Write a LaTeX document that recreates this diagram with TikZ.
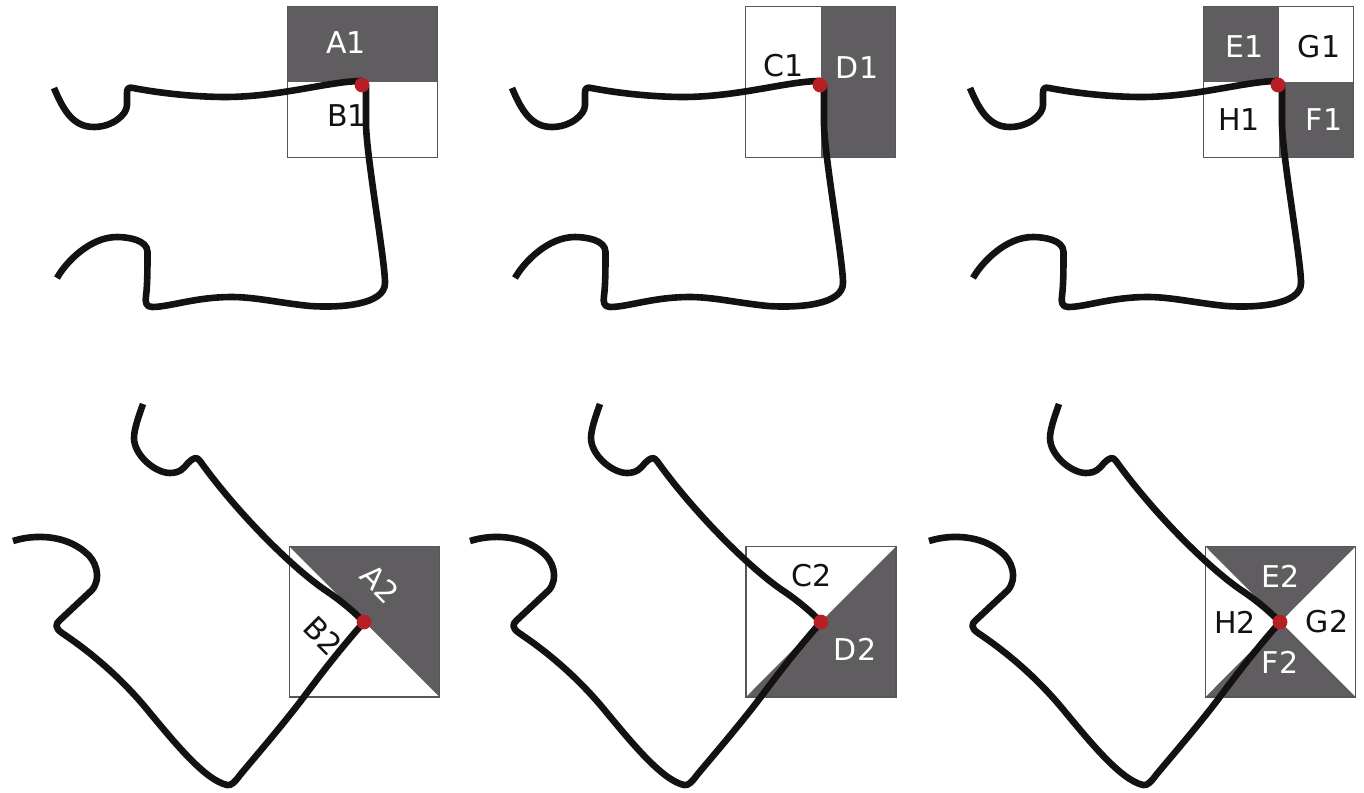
\documentclass[tikz,border=0pt]{standalone}
\usepackage{fontspec}
\setmainfont{DejaVu Sans}
\definecolor{panel}{HTML}{5F5D60}
\definecolor{frameline}{HTML}{55555A}
\definecolor{inkline}{HTML}{141210}
\definecolor{dotred}{HTML}{B71F25}
\tikzset{
  shade region/.style={fill=panel,draw=none},
  frame box/.style={draw=frameline,line width=1.2pt,fill=none},
  profile/.style={draw=inkline,line width=6.6pt,line join=round,line cap=butt},
  hinge/.style={fill=dotred,draw=none},
  lightlabel/.style={text=white,font=\fontsize{30}{35}\selectfont,inner sep=0pt},
  darklabel/.style={text=inkline,font=\fontsize{30}{35}\selectfont,inner sep=0pt}
}
\newcommand{\uprightprofile}{%
  \draw[profile] (54,88) .. controls (64,112) and (74,127) .. (94,127)
    .. controls (112,127) and (127,115) .. (127,105) -- (127,93)
    .. controls (127,88) and (129,87) .. (133,88)
    .. controls (170,95) and (205,97) .. (225,97)
    .. controls (280,97) and (330,81) .. (362,81);
  \draw[profile] (366,85) -- (366,125)
    .. controls (367,160) and (385,260) .. (385,283)
    .. controls (385,305) and (340,308) .. (310,306)
    .. controls (280,303) and (255,297) .. (232,297)
    .. controls (195,297) and (170,307) .. (152,307)
    .. controls (146,307) and (145,302) .. (146,296)
    .. controls (147.5,285) and (147.5,265) .. (147.5,252)
    .. controls (147.5,240) and (128,237) .. (117,237)
    .. controls (90,237) and (66,262) .. (57,278);
  \fill[hinge] (362,85) circle (7.4);
}
\newcommand{\tiltedprofile}{%
  \draw[profile] (143,404) .. controls (138,418) and (134,430) .. (134,438)
    .. controls (134,455) and (155,473) .. (170,473)
    .. controls (180,473) and (184,468) .. (188,463)
    .. controls (193,458) and (197,456) .. (200,461)
    .. controls (235,510) and (290,566) .. (325,590)
    .. controls (340,600) and (352,610) .. (364,622);
  \draw[profile] (364,622) .. controls (335,655) and (315,682) .. (300,702)
    .. controls (280,728) and (255,757) .. (240,775)
    .. controls (235,782) and (231,786) .. (227,785)
    .. controls (205,780) and (175,743) .. (150,713)
    .. controls (125,682) and (95,655) .. (62,633)
    .. controls (55,628) and (55,624) .. (60,620) -- (92,590)
    .. controls (102,578) and (96,560) .. (85,552)
    .. controls (65,535) and (35,534) .. (13,541);
  \fill[hinge] (364,622) circle (7.4);
}
\begin{document}
\begin{tikzpicture}[x=1pt,y=-1pt]
\useasboundingbox (0,0) rectangle (1364,792);
% top row
\fill[shade region] (287.5,6.5) rectangle (437.5,82);
\draw[frame box] (287.5,6.5) rectangle (437.5,157.5);
\uprightprofile
\node[lightlabel] (a1) at (346,43) {A1};
\node[darklabel] (b1) at (347,116) {B1};

\begin{scope}[xshift=458pt]
\fill[shade region] (362.5,6.5) rectangle (437.5,157.5);
\draw[frame box] (287.5,6.5) rectangle (437.5,157.5);
\uprightprofile
\node[darklabel] (c1) at (326,66) {C1};
\node[lightlabel] (d1) at (399,68) {D1};
\end{scope}

\begin{scope}[xshift=916pt]
\fill[shade region] (287.5,6.5) rectangle (362.5,82);
\fill[shade region] (362.5,82) rectangle (437.5,157.5);
\draw[frame box] (287.5,6.5) rectangle (437.5,157.5);
\uprightprofile
\node[lightlabel] (e1) at (329,47) {E1};
\node[darklabel] (g1) at (403,47) {G1};
\node[darklabel] (h1) at (323,120) {H1};
\node[lightlabel] (f1) at (408,120) {F1};
\end{scope}
% bottom row
\fill[shade region] (289.5,546.5) -- (439.5,546.5) -- (439.5,697) -- cycle;
\draw[frame box] (289.5,546.5) rectangle (439.5,697);
\tiltedprofile
\node[lightlabel,rotate=-45] (a2) at (380,584) {A2};
\node[darklabel,rotate=-45] (b2) at (323,636) {B2};

\begin{scope}[xshift=457pt]
\fill[shade region] (439,546.5) -- (439,697) -- (289,697) -- cycle;
\draw[frame box] (289,546.5) rectangle (439,697);
\tiltedprofile
\node[darklabel] (c2) at (355,576) {C2};
\node[lightlabel] (d2) at (398,649) {D2};
\end{scope}

\begin{scope}[xshift=916pt]
\fill[shade region] (289.5,546.5) -- (439.5,546.5) -- (289.5,697) -- (439.5,697) -- cycle;
\draw[frame box] (289.5,546.5) rectangle (439.5,697);
\tiltedprofile
\node[lightlabel] (e2) at (365,576) {E2};
\node[lightlabel] (f2) at (364,662) {F2};
\node[darklabel] (h2) at (319,622) {H2};
\node[darklabel] (g2) at (411,622) {G2};
\end{scope}
\end{tikzpicture}
\end{document}
